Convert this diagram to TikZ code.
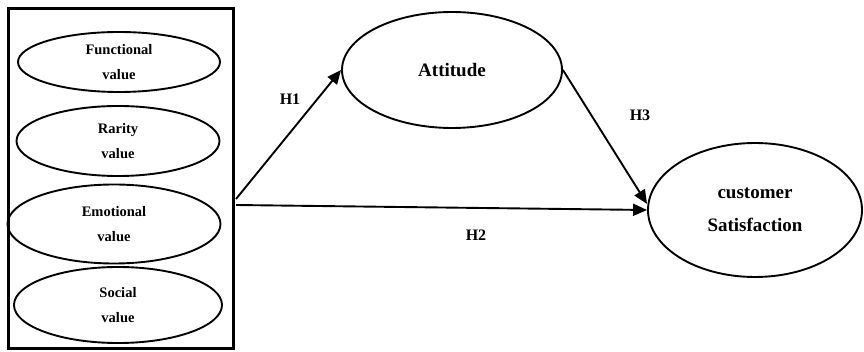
\documentclass[tikz,border=0pt]{standalone}
\usepackage{fontspec}
\setmainfont{Liberation Serif}
\usepackage{tikz}
\usetikzlibrary{shapes.geometric, arrows.meta, positioning}
\tikzstyle{valuebox} = [ellipse, draw, line width=1.9pt, inner sep=0pt, align=center, font=\fontsize{14.5}{25}\selectfont\bfseries]
\tikzstyle{construct} = [ellipse, draw, line width=1.9pt, inner sep=0pt, align=center, font=\fontsize{19}{33}\selectfont\bfseries]
\tikzstyle{frame} = [rectangle, draw, line width=3pt, inner sep=0pt]
\tikzstyle{arrow} = [line width=1.9pt, -{Triangle[length=14pt,width=12pt]}]
\tikzstyle{hyp} = [font=\fontsize{16}{16}\selectfont\bfseries]

\begin{document}
\begin{tikzpicture}[x=1pt, y=-1pt]
    \useasboundingbox (0,0) rectangle (864,352);

    \node[frame, minimum width=225pt, minimum height=340pt] (group) at (121,178.5) {};
    \node[valuebox, minimum width=202pt, minimum height=60pt] (func) at (119,62) {Functional\\value};
    \node[valuebox, minimum width=203pt, minimum height=70pt] (rare) at (118,141) {Rarity\\value};
    \node[valuebox, minimum width=213pt, minimum height=79pt] (emo) at (114,224) {Emotional\\value};
    \node[valuebox, minimum width=208pt, minimum height=76pt] (soc) at (118,305) {Social\\value};

    \node[construct, minimum width=220pt, minimum height=116pt] (att) at (452,70) {Attitude};
    \node[construct, minimum width=214pt, minimum height=134pt] (sat) at (755,210) {customer\\Satisfaction};

    \coordinate (src1) at (236,199);
    \coordinate (src2) at (236,205);

    \draw[arrow] (src1) -- (att.west);
    \draw[arrow] (src2) -- (sat.west);
    \draw[arrow] (att.east) -- ([yshift=6pt]sat.west);

    % Labels
    \node[hyp] (h1) at (290,99) {H1};
    \node[hyp] (h2) at (476,235) {H2};
    \node[hyp] (h3) at (640,115) {H3};
\end{tikzpicture}
\end{document}
